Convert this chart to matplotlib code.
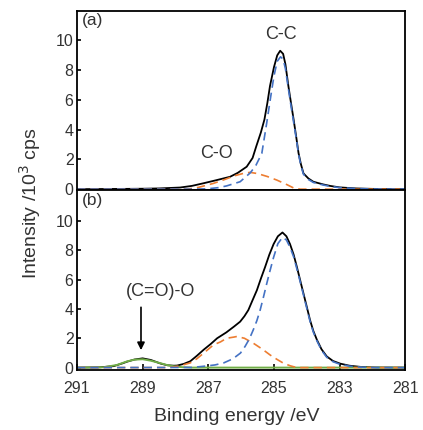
"""C 1s XPS spectra with peak fitting: (a) one sample, (b) another."""

import matplotlib

matplotlib.use("Agg")
import matplotlib.pyplot as plt

plt.rcParams["font.family"] = ["Liberation Sans", "DejaVu Sans"]

BLUE = "#4472C4"
ORANGE = "#ED7D31"
GREEN = "#70AD47"
TXT = "#333333"

# ---- panel (a) ----
a_total_e = [291.0, 289.5, 289.0, 288.5, 287.86, 287.5, 287.16, 286.8, 286.34, 286.1,
             285.83, 285.65, 285.54, 285.4, 285.29, 285.2, 285.12, 285.0, 284.9, 284.81,
             284.72, 284.65, 284.56, 284.48, 284.4, 284.32, 284.25, 284.18, 284.1, 283.95,
             283.8, 283.5, 283.29, 283.0, 282.5, 282.0, 281.0]
a_total_i = [0.0, 0.02, 0.03, 0.05, 0.11, 0.22, 0.39, 0.58, 0.83, 1.1,
             1.51, 2.1, 2.87, 3.8, 4.68, 5.8, 6.94, 8.2, 9.0, 9.31,
             9.1, 8.4, 6.94, 5.8, 4.68, 3.5, 2.42, 1.7, 1.06, 0.72,
             0.5, 0.32, 0.22, 0.12, 0.05, 0.02, 0.0]

a_cc_e = [291.0, 287.5, 287.04, 286.7, 286.44, 286.03, 285.72, 285.55, 285.37, 285.22,
          285.1, 285.0, 284.9, 284.8, 284.72, 284.65, 284.56, 284.48, 284.4, 284.32,
          284.25, 284.18, 284.1, 283.95, 283.8, 283.5, 283.29, 283.0, 282.5, 282.0, 281.0]
a_cc_i = [0.0, 0.0, 0.02, 0.1, 0.22, 0.5, 1.1, 1.6, 2.4, 4.45,
          6.2, 7.6, 8.6, 8.9, 8.75, 8.1, 6.75, 5.6, 4.5, 3.4,
          2.35, 1.6, 1.0, 0.65, 0.45, 0.28, 0.19, 0.1, 0.04, 0.01, 0.0]

a_co_e = [291.0, 287.65, 287.3, 286.84, 286.5, 286.2, 285.95, 285.73, 285.5, 285.2,
          284.91, 284.6, 284.4, 284.2, 281.0]
a_co_i = [0.0, 0.0, 0.12, 0.39, 0.65, 0.9, 1.05, 1.13, 1.05, 0.85,
          0.61, 0.3, 0.08, 0.0, 0.0]

# ---- panel (b) ----
b_total_e = [291.0, 290.3, 289.88, 289.6, 289.48, 289.25, 289.0, 288.75, 288.46, 288.25,
             288.05, 287.95, 287.75, 287.55, 287.35, 287.14, 286.93, 286.73, 286.45, 286.22,
             286.03, 285.9, 285.78, 285.65, 285.52, 285.4, 285.27, 285.14, 285.01, 284.88,
             284.74, 284.62, 284.51, 284.4, 284.3, 284.2, 284.1, 284.0, 283.9, 283.8,
             283.69, 283.55, 283.39, 283.2, 282.98, 282.7, 282.37, 281.9, 281.0]
b_total_i = [0.0, 0.02, 0.1, 0.3, 0.4, 0.55, 0.63, 0.52, 0.28, 0.16,
             0.13, 0.14, 0.25, 0.43, 0.8, 1.22, 1.6, 2.0, 2.4, 2.79,
             3.13, 3.5, 3.92, 4.6, 5.27, 6.05, 6.85, 7.7, 8.42, 8.95,
             9.21, 8.95, 8.42, 7.7, 6.85, 5.95, 5.05, 4.15, 3.24, 2.5,
             1.89, 1.25, 0.76, 0.45, 0.27, 0.13, 0.05, 0.01, 0.0]

b_cc_e = [291.0, 287.5, 287.14, 286.8, 286.53, 286.25, 286.02, 285.88, 285.75, 285.63,
          285.52, 285.42, 285.32, 285.22, 285.12, 285.01, 284.88, 284.74, 284.62, 284.51,
          284.4, 284.3, 284.2, 284.1, 284.0, 283.9, 283.8, 283.69, 283.55, 283.39,
          283.2, 282.98, 282.7, 282.37, 281.9, 281.0]
b_cc_i = [0.0, 0.01, 0.09, 0.18, 0.32, 0.6, 0.99, 1.44, 1.95, 2.57,
          3.2, 3.92, 4.8, 5.72, 6.6, 7.52, 8.45, 8.87, 8.7, 8.2,
          7.55, 6.72, 5.85, 4.95, 4.05, 3.15, 2.42, 1.82, 1.18, 0.7,
          0.4, 0.22, 0.1, 0.03, 0.0, 0.0]

b_co_e = [291.0, 288.2, 287.9, 287.55, 287.35, 287.14, 286.84, 286.63, 286.44, 286.22,
          286.13, 285.9, 285.62, 285.35, 285.11, 284.9, 284.71, 284.5, 284.3, 281.0]
b_co_i = [0.0, 0.0, 0.1, 0.32, 0.6, 0.99, 1.55, 1.75, 2.0, 2.08,
          2.12, 2.0, 1.65, 1.25, 0.85, 0.55, 0.3, 0.12, 0.0, 0.0]

b_coo_e = [291.0, 290.2, 289.78, 289.48, 289.25, 289.0, 288.75, 288.46, 288.25, 288.05,
           287.8, 287.5, 281.0]
b_coo_i = [0.0, 0.02, 0.18, 0.42, 0.54, 0.57, 0.47, 0.3, 0.17, 0.09,
           0.03, 0.0, 0.0]

x_ticks = [291, 289, 287, 285, 283, 281]
y_ticks = [0, 2, 4, 6, 8, 10]

fig = plt.figure(figsize=(4.23, 4.30), dpi=100)
ax_a = fig.add_axes([0.182, 0.558, 0.776, 0.417])
ax_b = fig.add_axes([0.182, 0.140, 0.776, 0.418])

dash = dict(lw=1.2, dashes=(5, 3))

ax_a.plot(a_total_e, a_total_i, color="black", lw=1.3)
ax_a.plot(a_co_e, a_co_i, color=ORANGE, **dash)
ax_a.plot(a_cc_e, a_cc_i, color=BLUE, **dash)

ax_b.plot(b_total_e, b_total_i, color="black", lw=1.3)
ax_b.plot(b_coo_e, b_coo_i, color=GREEN, lw=1.4)
ax_b.plot(b_co_e, b_co_i, color=ORANGE, **dash)
ax_b.plot(b_cc_e, b_cc_i, color=BLUE, **dash)

for ax, lo, hi in ((ax_a, -0.06, 12.0), (ax_b, -0.15, 12.1)):
    ax.set_xlim(291, 281)
    ax.set_ylim(lo, hi)
    ax.set_yticks(y_ticks)
    ax.tick_params(axis="y", direction="in", length=3, width=1.2, pad=2.5,
                   labelsize=11.5, labelcolor=TXT)
    for s in ax.spines.values():
        s.set_linewidth(1.3)

ax_a.set_xticks([])
ax_b.set_xticks(x_ticks)
ax_b.tick_params(axis="x", direction="in", length=4, width=1.2, pad=8,
                 labelsize=11.5, labelcolor=TXT)

ax_a.text(0.015, 0.985, "(a)", transform=ax_a.transAxes, ha="left", va="top",
          fontsize=12.5, color=TXT)
ax_b.text(0.015, 0.985, "(b)", transform=ax_b.transAxes, ha="left", va="top",
          fontsize=12.5, color=TXT)

ax_a.text(284.8, 10.4, "C-C", ha="center", va="center", fontsize=13, color=TXT)
ax_a.text(286.75, 2.4, "C-O", ha="center", va="center", fontsize=13, color=TXT)

ax_b.text(288.45, 5.2, "(C=O)-O", ha="center", va="center", fontsize=13, color=TXT)
ax_b.annotate("", xy=(289.05, 1.0), xytext=(289.05, 4.3),
              arrowprops=dict(arrowstyle="-|>", color="black", lw=1.2,
                              mutation_scale=11))

fig.text(0.071, 0.528, "Intensity /10$^3$ cps", rotation=90, ha="center",
         va="center", fontsize=14, color=TXT)
fig.text(0.559, 0.032, "Binding energy /eV", ha="center", va="center",
         fontsize=14, color=TXT)

fig.savefig("out.png", dpi=100)
